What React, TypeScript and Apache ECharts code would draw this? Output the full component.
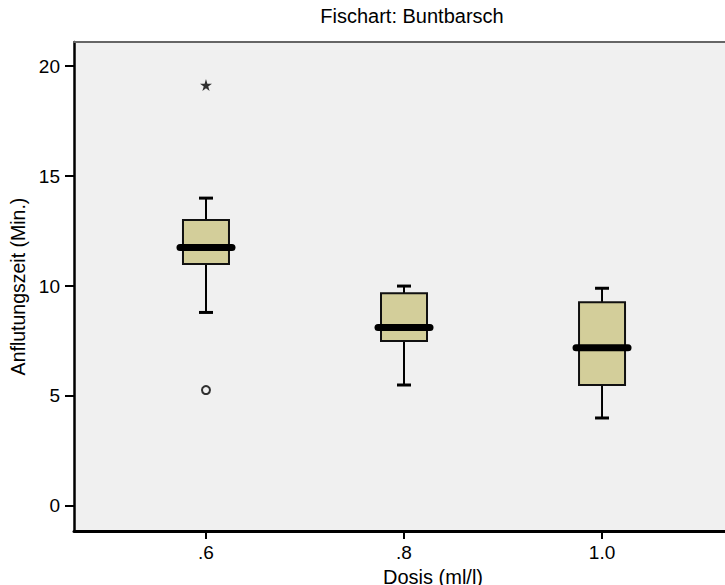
import React, { useEffect, useRef } from "react";
import * as echarts from "echarts";

// Dose groups (x positions) and their tick labels
const doses = [0.6, 0.8, 1.0];
const doseLabels = [".6", ".8", "1.0"];

// Box plot statistics per dose (Anflutungszeit, Min.)
const whiskerLow = [8.8, 5.5, 4.0];
const quartile1 = [11.0, 7.5, 5.5];
const medians = [11.75, 8.12, 7.2];
const quartile3 = [13.0, 9.67, 9.26];
const whiskerHigh = [14.0, 10.0, 9.9];

// Outliers (circle) and extreme values (star)
const outlierDose = [0.6];
const outlierValue = [5.27];
const extremeDose = [0.6];
const extremeValue = [19.14];

const yTicks = [0, 5, 10, 15, 20];

const FONT = "'Liberation Sans', Arial, sans-serif";
const STAR = "path://M50,0 L61,35 L98,35 L68,57 L79,91 L50,70 L21,91 L32,57 L2,35 L39,35 Z";

export default function App() {
  const ref = useRef<HTMLDivElement>(null);
  useEffect(() => {
    if (!ref.current) return;
    const chart = echarts.init(ref.current, null, { renderer: "svg" });
    const boxData = doses.map((d, i) => [d, whiskerLow[i], quartile1[i], medians[i], quartile3[i], whiskerHigh[i]]);
    chart.setOption({
      animation: false,
      backgroundColor: "#ffffff",
      textStyle: { fontFamily: FONT },
      title: {
        text: "Fischart: Buntbarsch",
        left: 407, top: 1, textAlign: "center",
        textStyle: { fontFamily: FONT, fontSize: 20, fontWeight: "normal", color: "#000" },
      },
      grid: {
        left: 74, top: 42, right: 0, bottom: 54,
        outerBoundsMode: "none",
        containLabel: false,
        show: true, backgroundColor: "#f0f0f0", borderWidth: 0, borderColor: "transparent",
      },
      xAxis: [
        {
          type: "value",
          min: 0.4667,
          max: 1.1242,
          name: "Dosis (ml/l)",
          nameLocation: "middle",
          nameGap: 24,
          nameTextStyle: { fontFamily: FONT, fontSize: 20, color: "#000", padding: [0, 0, 0, 67] },
          splitLine: { show: false },
          axisLine: { show: true, onZero: false, lineStyle: { color: "#000", width: 3 } },
          axisTick: { show: true, customValues: doses, length: 8, lineStyle: { color: "#000", width: 2 } },
          axisLabel: {
            customValues: doses, margin: 12, fontSize: 19, color: "#000", fontFamily: FONT,
            formatter: (v: number) => {
              const idx = doses.findIndex((d) => Math.abs(d - v) < 1e-6);
              return idx >= 0 ? doseLabels[idx] : "";
            },
          },
        },
        {
          type: "value",
          position: "top",
          min: 0.4667,
          max: 1.1242,
          splitLine: { show: false },
          axisLine: { show: true, onZero: false, lineStyle: { color: "#666666", width: 2 } },
          axisTick: { show: false },
          axisLabel: { show: false },
        },
      ],
      yAxis: {
        type: "value",
        min: -1.14,
        max: 21.1,
        name: "Anflutungszeit (Min.)",
        nameLocation: "middle",
        nameGap: 42,
        nameTextStyle: { fontFamily: FONT, fontSize: 19.5, color: "#000" },
        splitLine: { show: false },
        axisLine: { show: true, onZero: false, lineStyle: { color: "#000", width: 2.5 } },
        axisTick: { show: true, customValues: yTicks, length: 9, lineStyle: { color: "#000", width: 2 } },
        axisLabel: { customValues: yTicks, margin: 14, fontSize: 19, color: "#000", fontFamily: FONT },
      },
      series: [
        {
          type: "custom",
          data: boxData,
          encode: { x: 0, y: [1, 2, 3, 4, 5] },
          renderItem: (params: any, api: any) => {
            const x = api.value(0);
            const lo = api.coord([x, api.value(1)]);
            const q1 = api.coord([x, api.value(2)]);
            const md = api.coord([x, api.value(3)]);
            const q3 = api.coord([x, api.value(4)]);
            const hi = api.coord([x, api.value(5)]);
            const cx = lo[0];
            const hw = 23, cap = 7, mh = 26;
            const ls = { stroke: "#000", lineWidth: 2 };
            return {
              type: "group",
              children: [
                { type: "line", shape: { x1: cx, y1: hi[1], x2: cx, y2: q3[1] }, style: ls },
                { type: "line", shape: { x1: cx, y1: q1[1], x2: cx, y2: lo[1] }, style: ls },
                { type: "line", shape: { x1: cx - cap, y1: hi[1], x2: cx + cap, y2: hi[1] }, style: { stroke: "#000", lineWidth: 3 } },
                { type: "line", shape: { x1: cx - cap, y1: lo[1], x2: cx + cap, y2: lo[1] }, style: { stroke: "#000", lineWidth: 3 } },
                { type: "rect", shape: { x: cx - hw, y: q3[1], width: 2 * hw, height: q1[1] - q3[1] }, style: { fill: "#d3ce9a", stroke: "#111", lineWidth: 2 } },
                { type: "line", shape: { x1: cx - mh, y1: md[1], x2: cx + mh, y2: md[1] }, style: { stroke: "#000", lineWidth: 7, lineCap: "round" } },
              ],
            };
          },
          z: 2,
        },
        {
          type: "scatter",
          data: outlierDose.map((d, i) => [d, outlierValue[i]]),
          symbol: "circle",
          symbolSize: 8,
          itemStyle: { color: "#f0f0f0", borderColor: "#000", borderWidth: 2 },
          z: 3,
        },
        {
          type: "scatter",
          data: extremeDose.map((d, i) => [d, extremeValue[i]]),
          symbol: STAR,
          symbolSize: 12,
          itemStyle: { color: "#000" },
          z: 3,
        },
      ],
    });
    return () => chart.dispose();
  }, []);
  return <div ref={ref} style={{ width: 725, height: 585, position: "absolute", left: 0, top: 0 }} />;
}
